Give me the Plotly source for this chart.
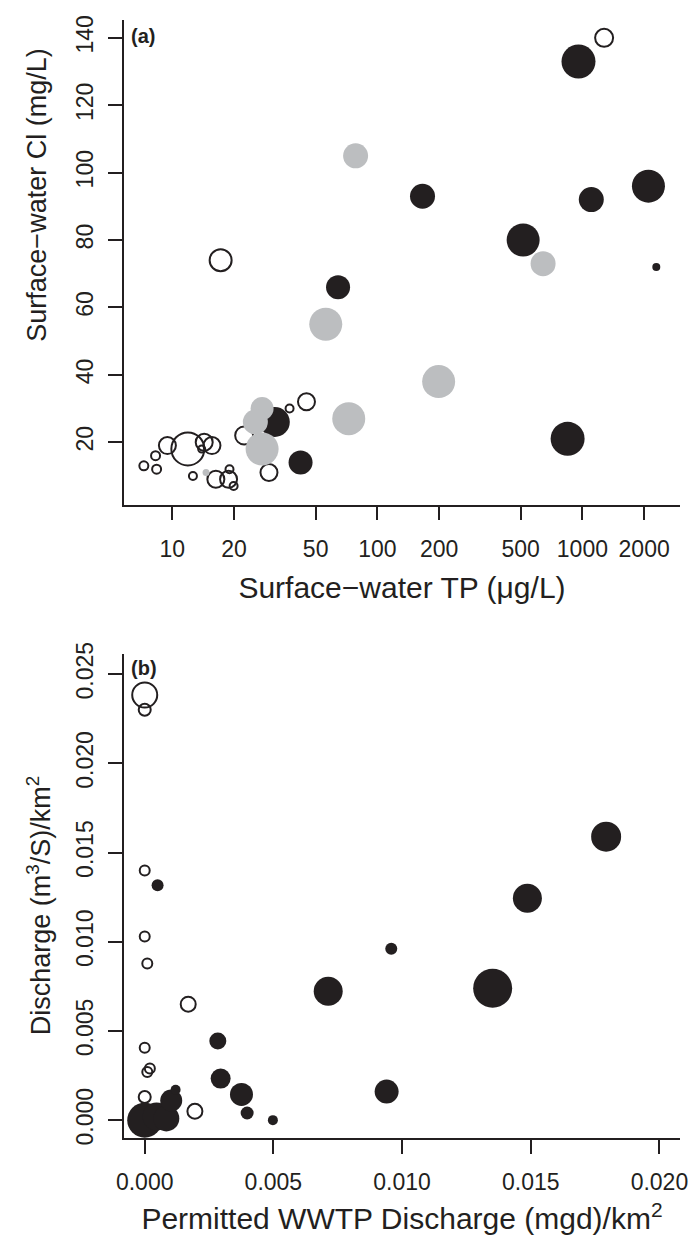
import numpy as np
import plotly.graph_objects as go

# ---------------- Panel (a) data ----------------
a_open_tp = [1276, 17.2, 45.1, 37.3, 22.4, 29.6, 9.46, 11.9, 14.3, 15.6, 13.9, 8.28, 7.26, 8.38, 12.6, 16.3, 18.8, 19.0, 19.9]
a_open_cl = [140, 74, 32, 30, 22, 11, 19, 18, 20, 19, 18, 16, 13, 12, 10, 9, 9, 12, 7]
a_open_sz = [18, 22, 17, 8, 18, 17, 17, 33, 17, 17, 7, 9, 9, 9, 8, 17, 17, 8, 8]

a_black_tp = [957, 166, 1105, 2099, 514, 2293, 64.3, 847, 42.2, 31.6]
a_black_cl = [133, 93, 92, 96, 80, 72, 66, 21, 14, 26]
a_black_sz = [34, 25, 25, 33, 33, 8, 24, 34, 24, 30]

a_gray_tp = [78.3, 643, 56, 199, 72.5, 27.4, 25.4, 27.4, 14.6]
a_gray_cl = [105, 73, 55, 38, 27, 30, 26, 18, 11]
a_gray_sz = [25, 25, 33, 33, 33, 23, 25, 33, 7]

a_xticks = [10, 20, 50, 100, 200, 500, 1000, 2000]
a_yticks = [20, 40, 60, 80, 100, 120, 140]

# ---------------- Panel (b) data ----------------
b_open_x = [0, 0, 0.0001, 0.00169, 0, 0.0002, 0.0001, 0, 0.00195, 0, 0]
b_open_y = [0.02383, 0.0230, 0.00878, 0.0065, 0.00406, 0.0029, 0.0027, 0.0013, 0.0005, 0.0140, 0.0103]
b_open_sz = [25, 12, 10, 15, 10, 10, 10, 12, 15, 10, 10]

b_black_x = [0.0005, 0.00713, 0.00284, 0.00295, 0.00376, 0.00398, 0.00498, 0.01793, 0.01487,
             0.00958, 0.01352, 0.0094, 0, 0.00046, 0.00084, 0.00103, 0.0012]
b_black_y = [0.01317, 0.00722, 0.00444, 0.00233, 0.00144, 0.0004, 0.0000, 0.01589, 0.01244,
             0.00961, 0.00739, 0.0016, 0.0, 0.0002, 0.0001, 0.0011, 0.0017]
b_black_sz = [12, 29, 17, 20, 23, 13, 10, 30, 29, 12, 39, 24, 35, 28, 26, 22, 10]

b_ticks = [0.0, 0.005, 0.010, 0.015, 0.020, 0.025]

BLACK = "#231f20"
GRAY = "#bcbec0"
FONT = "Liberation Sans, Arial, Helvetica, sans-serif"

fig = go.Figure()

def add(x, y, s, kind, xa, ya):
    if kind == "open":
        m = dict(size=s, symbol="circle-open", color=BLACK, opacity=1, line=dict(width=2, color=BLACK))
    elif kind == "black":
        m = dict(size=s, symbol="circle", color=BLACK, opacity=1, line=dict(width=0))
    else:
        m = dict(size=s, symbol="circle", color=GRAY, opacity=1, line=dict(width=0))
    fig.add_trace(go.Scatter(x=x, y=y, mode="markers", marker=m, xaxis=xa, yaxis=ya,
                             showlegend=False, hoverinfo="x+y"))

add(a_open_tp, a_open_cl, a_open_sz, "open", "x", "y")
add(a_black_tp, a_black_cl, a_black_sz, "black", "x", "y")
add(a_gray_tp, a_gray_cl, a_gray_sz, "gray", "x", "y")
add(b_open_x, b_open_y, b_open_sz, "open", "x2", "y2")
add(b_black_x, b_black_y, b_black_sz, "black", "x2", "y2")

W, H = 696, 1247
ML, MR, MT, MB = 124, 8, 10, 109
PW = W - ML - MR
PH = H - MT - MB

def ydom(top_px, bot_px):
    return [(H - MB - bot_px) / PH, (H - MB - top_px) / PH]

def px(xp):
    return (xp - ML) / PW

def py(yp):
    return (H - MB - yp) / PH

axis_common = dict(showline=True, linecolor=BLACK, linewidth=1.5, mirror=False,
                   ticks="outside", ticklen=14, tickwidth=1.5, tickcolor=BLACK,
                   showgrid=False, zeroline=False,
                   tickfont=dict(family=FONT, size=23, color=BLACK))

TITLE_FONT = dict(family=FONT, size=30, color=BLACK)
YTITLE_FONT = dict(family=FONT, size=27, color=BLACK)

fig.update_layout(
    width=W, height=H,
    margin=dict(l=ML, r=MR, t=MT, b=MB),
    paper_bgcolor="white", plot_bgcolor="white",
    font=dict(family=FONT, color=BLACK),
    xaxis=dict(type="log", range=[np.log10(5.81), 3.476], domain=[0, 1], anchor="y",
               tickvals=a_xticks, ticktext=[str(v) for v in a_xticks],
               ticklabelstandoff=9,
               title=dict(text="Surface\u2212water TP (\u03bcg/L)", font=TITLE_FONT, standoff=16),
               **axis_common),
    yaxis=dict(range=[1.47, 145.3], domain=ydom(10, 499), anchor="x",
               tickvals=a_yticks, tickangle=-90, ticklabelstandoff=6,
               **axis_common),
    xaxis2=dict(range=[-0.000805, 0.0208], domain=[0, 1], anchor="y2",
                tickvals=b_ticks[:5], tickformat=".3f", ticklabelstandoff=9,
                title=dict(text="Permitted WWTP Discharge (mgd)/km<sup>2</sup>", font=TITLE_FONT, standoff=14),
                **axis_common),
    yaxis2=dict(range=[-0.001, 0.02611], domain=ydom(650, 1138), anchor="x2",
                tickvals=b_ticks, tickformat=".3f", tickangle=-90, ticklabelstandoff=6,
                **axis_common),
    annotations=[
        dict(text="Surface\u2212water Cl (mg/L)", xref="paper", yref="paper", x=px(36), y=py(187),
             xanchor="center", yanchor="middle", textangle=-90, showarrow=False, font=YTITLE_FONT),
        dict(text="Discharge (m<sup>3</sup>/S)/km<sup>2</sup>", xref="paper", yref="paper", x=px(38), y=py(903),
             xanchor="center", yanchor="middle", textangle=-90, showarrow=False, font=YTITLE_FONT),
        dict(text="<b>(a)</b>", xref="paper", yref="paper", x=px(129),
             y=py(26), xanchor="left", yanchor="middle", showarrow=False,
             font=dict(family=FONT, size=20, color=BLACK)),
        dict(text="<b>(b)</b>", xref="paper", yref="paper", x=px(129),
             y=py(664), xanchor="left", yanchor="middle", showarrow=False,
             font=dict(family=FONT, size=20, color=BLACK)),
    ],
)

fig.write_html("out.html")
